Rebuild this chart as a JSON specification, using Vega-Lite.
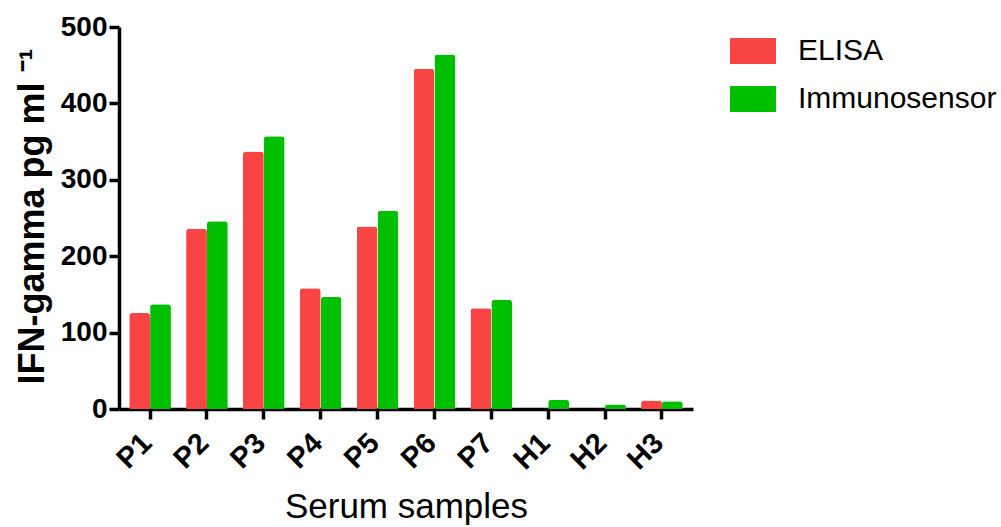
{
  "$schema": "https://vega.github.io/schema/vega-lite/v6.json",
  "autosize": "none",
  "width": 574,
  "height": 382,
  "padding": {"left": 119, "top": 27, "right": 308, "bottom": 118},
  "background": "white",
  "config": {
    "view": {"stroke": null},
    "font": "Liberation Sans"
  },
  "data": {
    "values": [
      {"sample": "P1", "method": "ELISA", "value": 125.6},
      {"sample": "P1", "method": "Immunosensor", "value": 137},
      {"sample": "P2", "method": "ELISA", "value": 236},
      {"sample": "P2", "method": "Immunosensor", "value": 245.7},
      {"sample": "P3", "method": "ELISA", "value": 337},
      {"sample": "P3", "method": "Immunosensor", "value": 357},
      {"sample": "P4", "method": "ELISA", "value": 158},
      {"sample": "P4", "method": "Immunosensor", "value": 146.6},
      {"sample": "P5", "method": "ELISA", "value": 239},
      {"sample": "P5", "method": "Immunosensor", "value": 259.6},
      {"sample": "P6", "method": "ELISA", "value": 445.5},
      {"sample": "P6", "method": "Immunosensor", "value": 464},
      {"sample": "P7", "method": "ELISA", "value": 132},
      {"sample": "P7", "method": "Immunosensor", "value": 142.7},
      {"sample": "H1", "method": "ELISA", "value": 0},
      {"sample": "H1", "method": "Immunosensor", "value": 12},
      {"sample": "H2", "method": "ELISA", "value": 0},
      {"sample": "H2", "method": "Immunosensor", "value": 6},
      {"sample": "H3", "method": "ELISA", "value": 11},
      {"sample": "H3", "method": "Immunosensor", "value": 10}
    ]
  },
  "mark": {"type": "bar", "cornerRadiusTopLeft": 3, "cornerRadiusTopRight": 3},
  "encoding": {
    "x": {
      "field": "sample",
      "type": "nominal",
      "sort": null,
      "scale": {"paddingInner": 0.267, "paddingOuter": 0.18},
      "axis": {
        "title": "Serum samples",
        "titleFont": "Liberation Sans",
        "titleFontSize": 35,
        "titleFontWeight": "normal",
        "titleColor": "black",
        "titleBaseline": "alphabetic",
        "titleY": 108,
        "labelAngle": -45,
        "labelAlign": "right",
        "labelBaseline": "middle",
        "labelFont": "Liberation Sans",
        "labelFontSize": 29,
        "labelFontWeight": "bold",
        "labelColor": "black",
        "labelPadding": 19,
        "labelOffset": -3,
        "domainColor": "black",
        "domainWidth": 3.5,
        "tickColor": "black",
        "tickWidth": 3.5,
        "tickSize": 10,
        "grid": false
      }
    },
    "xOffset": {"field": "method", "type": "nominal", "scale": {"paddingInner": 0, "paddingOuter": 0}},
    "y": {
      "field": "value",
      "type": "quantitative",
      "scale": {"domain": [0, 500], "nice": false},
      "axis": {
        "title": "IFN-gamma pg ml ⁻¹",
        "titleFont": "Liberation Sans",
        "titleFontSize": 36,
        "titleFontWeight": "bold",
        "titleColor": "black",
        "titleAngle": 270,
        "titleAlign": "center",
        "titleBaseline": "alphabetic",
        "titleX": -76,
        "titleY": 189,
        "values": [0, 100, 200, 300, 400, 500],
        "labelFont": "Liberation Sans",
        "labelFontSize": 28,
        "labelFontWeight": "bold",
        "labelColor": "black",
        "labelPadding": 2,
        "labelBaseline": "middle",
        "domainColor": "black",
        "domainWidth": 3.5,
        "tickColor": "black",
        "tickWidth": 3.5,
        "tickSize": 10,
        "grid": false
      }
    },
    "color": {
      "field": "method",
      "type": "nominal",
      "scale": {"domain": ["ELISA", "Immunosensor"], "range": ["#F94444", "#00BF00"]},
      "legend": {
        "title": null,
        "orient": "none",
        "legendX": 611,
        "legendY": 1,
        "padding": 0,
        "rowPadding": 10,
        "symbolType": "M-1,-0.565H1V0.565H-1Z",
        "symbolSize": 2116,
        "symbolStrokeWidth": 0,
        "symbolOpacity": 1,
        "labelFont": "Liberation Sans",
        "labelFontSize": 30,
        "labelColor": "black",
        "labelOffset": 22,
        "labelLimit": 400
      }
    }
  }
}
